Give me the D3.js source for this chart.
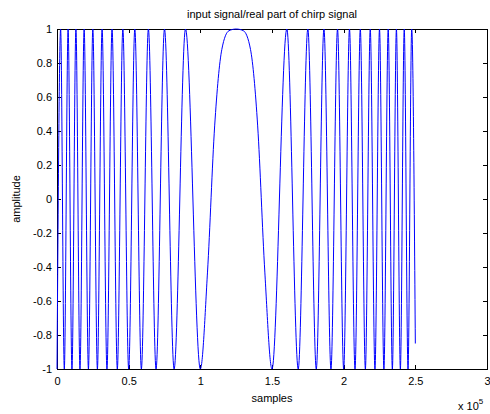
<!DOCTYPE html>
<html>
<head>
<meta charset="utf-8">
<script src="https://cdn.jsdelivr.net/npm/d3@7"></script>
<style>
  html, body { margin: 0; padding: 0; background: #fff; }
  svg { display: block; }
  text { font-family: "Liberation Sans", Arial, sans-serif; fill: #000; }
</style>
</head>
<body>
<svg id="chart" width="490" height="414"></svg>
<script>
// ---- data ----
// sample positions of the extrema / read points of the chirp (samples)
const sampleIndex = [
  0, 2530, 5100, 7740, 10440, 13200, 16030, 18930, 21920, 25000,
  28180, 31460, 34860, 38400, 42080, 45940, 50000, 54290, 58860, 63760,
  69100, 75000, 81700, 89650, 100000,
  105000, 110000, 115000, 120000, 125000, 130000, 135000, 140000, 145000,
  150000, 160350, 168300, 175000, 180900, 186240, 191140, 195710, 200000,
  204060, 207920, 211600, 215140, 218540, 221830, 225000, 228080, 231070,
  233970, 236800, 239560, 242260, 244900, 247470, 250000
];
const amplitudeValues = [
  -1, 1, -1, 1, -1, 1, -1, 1, -1, 1,
  -1, 1, -1, 1, -1, 1, -1, 1, -1, 1,
  -1, 1, -1, 1, -1,
  -0.43, 0.43, 0.88, 0.99, 1, 0.99, 0.88, 0.43, -0.43,
  -1, 1, -1, 1, -1, 1, -1, 1, -1,
  1, -1, 1, -1, 1, -1, 1, -1, 1,
  -1, 1, -1, 1, -1, 1, -0.85
];
const xTickValues = [0, 50000, 100000, 150000, 200000, 250000, 300000];
const xTickLabels = ["0", "0.5", "1", "1.5", "2", "2.5", "3"];
const yTickValues = [-1, -0.8, -0.6, -0.4, -0.2, 0, 0.2, 0.4, 0.6, 0.8, 1];
const yTickLabels = ["-1", "-0.8", "-0.6", "-0.4", "-0.2", "0", "0.2", "0.4", "0.6", "0.8", "1"];
const titleText = "input signal/real part of chirp signal";
const xLabelText = "samples";
const yLabelText = "amplitude";

// ---- layout ----
const L = 57, R = 487, T = 29, B = 369;
const svg = d3.select("#chart");
const x = d3.scaleLinear().domain([0, 300000]).range([L, R]);
const y = d3.scaleLinear().domain([-1, 1]).range([B, T]);
const tickLen = 4;

const axes = svg.append("g");
// box
axes.append("rect").attr("x", L).attr("y", T).attr("width", R - L).attr("height", B - T)
  .attr("fill", "none").attr("stroke", "#000").attr("stroke-width", 1)
  .attr("shape-rendering", "crispEdges");

// bottom axis (ticks inward)
const xAxisB = d3.axisBottom(x).tickValues(xTickValues)
  .tickFormat((d, i) => xTickLabels[i]).tickSizeInner(-tickLen).tickSizeOuter(0).tickPadding(8);
const gxb = axes.append("g").attr("transform", `translate(0,${B})`).call(xAxisB);
// top ticks
const xAxisT = d3.axisTop(x).tickValues(xTickValues).tickFormat("").tickSizeInner(-tickLen).tickSizeOuter(0);
const gxt = axes.append("g").attr("transform", `translate(0,${T})`).call(xAxisT);
// left axis
const yAxisL = d3.axisLeft(y).tickValues(yTickValues)
  .tickFormat((d, i) => yTickLabels[i]).tickSizeInner(-tickLen).tickSizeOuter(0).tickPadding(5);
const gyl = axes.append("g").attr("transform", `translate(${L},0)`).call(yAxisL);
// right ticks
const yAxisR = d3.axisRight(y).tickValues(yTickValues).tickFormat("").tickSizeInner(-tickLen).tickSizeOuter(0);
const gyr = axes.append("g").attr("transform", `translate(${R},0)`).call(yAxisR);

[gxb, gxt, gyl, gyr].forEach(g => {
  g.select(".domain").remove();
  g.selectAll(".tick line").attr("stroke", "#000").attr("shape-rendering", "crispEdges");
  g.selectAll(".tick text").attr("font-size", "11px")
    .attr("font-family", "'Liberation Sans', Arial, sans-serif").attr("fill", "#000");
});

// ---- signal ----
const pts = sampleIndex.map((s, i) => [s, amplitudeValues[i]]);
const line = d3.line().x(d => x(d[0])).y(d => y(d[1])).curve(d3.curveMonotoneX);
svg.append("path").datum(pts).attr("d", line)
  .attr("fill", "none").attr("stroke", "#0000ff").attr("stroke-width", 1);

// ---- texts ----
svg.append("text").attr("x", (L + R) / 2).attr("y", 18).attr("text-anchor", "middle")
  .attr("font-size", "11px").text(titleText);
svg.append("text").attr("x", (L + R) / 2).attr("y", 402).attr("text-anchor", "middle")
  .attr("font-size", "11px").text(xLabelText);
svg.append("text").attr("transform", `translate(20,${(T + B) / 2}) rotate(-90)`)
  .attr("text-anchor", "middle").attr("font-size", "11px").text(yLabelText);
const exp = svg.append("text").attr("x", 458).attr("y", 410).attr("font-size", "11px");
exp.append("tspan").text("x 10");
exp.append("tspan").attr("font-size", "8px").attr("dy", "-6").text("5");
</script>
</body>
</html>
